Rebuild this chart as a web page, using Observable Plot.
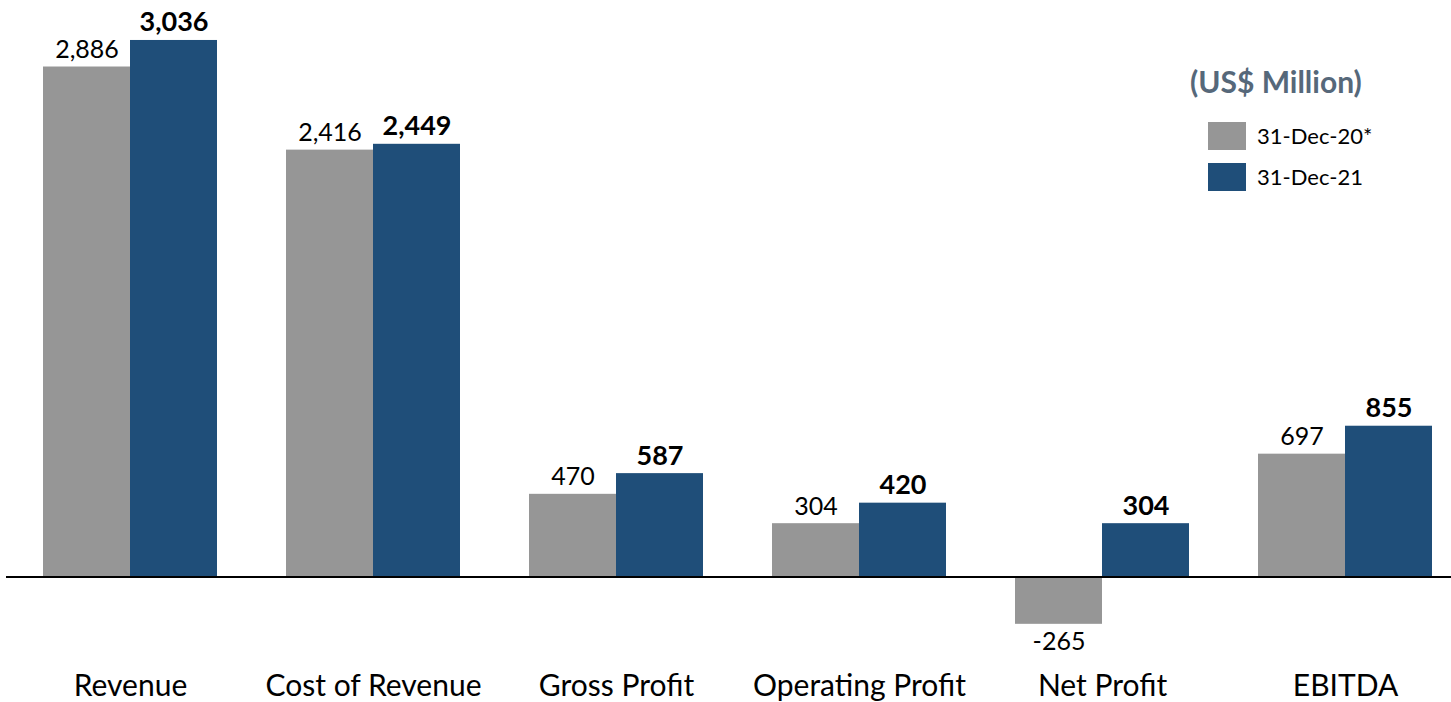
<!DOCTYPE html>
<html><head><meta charset="utf-8">
<script src="https://cdn.jsdelivr.net/npm/d3@7"></script>
<script src="https://cdn.jsdelivr.net/npm/@observablehq/plot@0.6"></script>
<style>
body{margin:0;background:#fff;font-family:Lato,"Open Sans",sans-serif;}
#wrap{position:relative;width:1451px;height:702px;}
#legend{position:absolute;left:1190px;top:62px;color:#000;}
#legend .title{font-weight:bold;font-size:30px;color:#56687a;line-height:38px;margin-bottom:15px;}
#legend .item{display:flex;align-items:center;height:41px;margin-left:18px;font-size:22px;}
#legend .sw{width:38px;height:28px;margin-right:11px;}
</style></head>
<body><div id="wrap"><div id="legend"></div></div>
<script>
const categories = ["Revenue","Cost of Revenue","Gross Profit","Operating Profit","Net Profit","EBITDA"];
const series = ["31-Dec-20*","31-Dec-21"];
const values2020 = [2886, 2416, 470, 304, -265, 697];
const values2021 = [3036, 2449, 587, 420, 304, 855];
const colors = ["#969696","#1f4e79"];
const legendTitle = "(US$ Million)";

const data = [];
categories.forEach((c,i)=>{
  data.push({category:c, series:series[0], value:values2020[i]});
  data.push({category:c, series:series[1], value:values2021[i]});
});
const fmt = v => v.toLocaleString("en-US");
const font = "Lato, 'Open Sans', sans-serif";
const gray = data.filter(d=>d.series===series[0]);
const blue = data.filter(d=>d.series===series[1]);

const chart = Plot.plot({
  width:1451, height:702,
  marginTop:0, marginBottom:0, marginLeft:8, marginRight:0,
  style:{fontFamily:font, background:"#fff", overflow:"visible"},
  fx:{domain:categories, paddingInner:0.286, paddingOuter:0.112, align:0.64, axis:null},
  x:{domain:series, padding:0, axis:null},
  y:{domain:[-707,3262], axis:null},
  color:{domain:series, range:colors},
  marks:[
    Plot.barY(data,{fx:"category", x:"series", y:"value", fill:"series"}),
    Plot.ruleY(categories.map(c=>({category:c, v:0})),{fx:"category", y:"v", stroke:"#000", strokeWidth:2, insetLeft:-37, insetRight:-37, shapeRendering:"crispEdges"}),
    Plot.text(gray.filter(d=>d.value>=0),{fx:"category", x:"series", y:"value",
      text:d=>fmt(d.value), lineAnchor:"bottom", dy:-9, fontSize:25, fill:"#000"}),
    Plot.text(gray.filter(d=>d.value<0),{fx:"category", x:"series", y:"value",
      text:d=>fmt(d.value), lineAnchor:"top", dy:8, fontSize:25, fill:"#000"}),
    Plot.text(blue,{fx:"category", x:"series", y:"value",
      text:d=>fmt(d.value), lineAnchor:"bottom", dy:-9,
      fontSize:27, fontWeight:"bold", fill:"#000"}),
    Plot.text(categories,{fx:d=>d, text:d=>d, frameAnchor:"bottom", lineAnchor:"middle", dy:-16,
      fontSize:30, fill:"#000"})
  ]
});
document.getElementById("wrap").prepend(chart);

const lg = document.getElementById("legend");
const t = document.createElement("div"); t.className="title"; t.textContent=legendTitle; lg.appendChild(t);
series.forEach((s,i)=>{
  const it=document.createElement("div"); it.className="item";
  const sw=document.createElement("div"); sw.className="sw"; sw.style.background=colors[i];
  const lb=document.createElement("span"); lb.textContent=s;
  it.appendChild(sw); it.appendChild(lb); lg.appendChild(it);
});
</script></body></html>
